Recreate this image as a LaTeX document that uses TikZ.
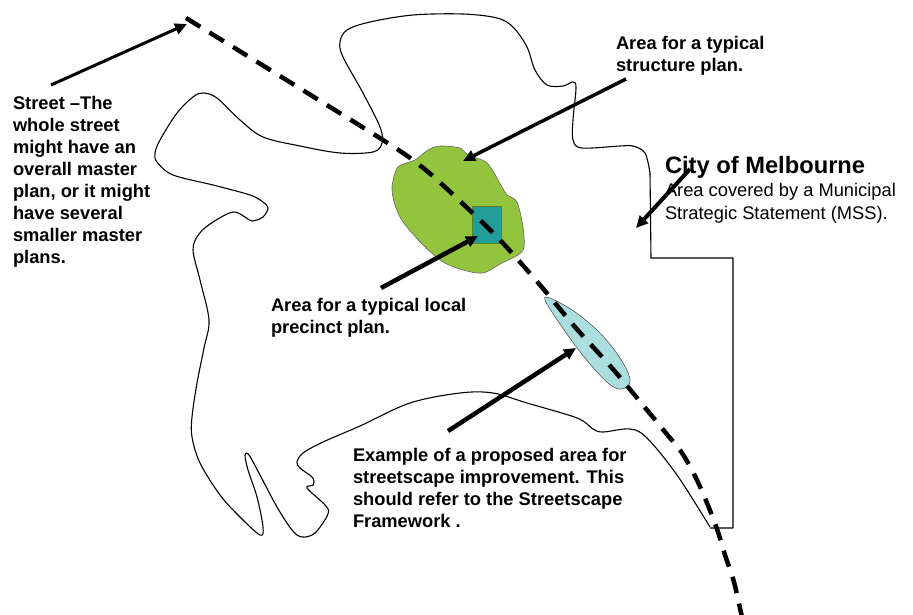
\documentclass[tikz,border=0pt]{standalone}
\usepackage{fontspec}
\setmainfont{Liberation Sans}
\usetikzlibrary{arrows.meta}
\tikzset{
  x=1pt,y=-1pt,
  outline/.style={draw=black,line width=1.1pt,line join=round},
  streetline/.style={draw=black,line width=4.5pt,dash pattern=on 16.8pt off 10.8pt},
  pointer/.style={draw=black,line width=#1,-{Triangle[length=12pt,width=11pt]}},
  pointer/.default=3.5pt,
  greenarea/.style={draw=black!60,fill=areagreen,line width=.6pt},
  tealarea/.style={draw=black!35!areagreen,fill=areateal,line width=.8pt},
  bluearea/.style={draw=black!65,fill=areablue,line width=.6pt},
  label/.style={anchor=north west,inner sep=0pt,outer sep=0pt,align=left,font=\fontsize{18.3}{22}\selectfont\bfseries},
  plainlabel/.style={anchor=north west,inner sep=0pt,outer sep=0pt,align=left,font=\fontsize{18.3}{23.5}\selectfont},
  titlelabel/.style={anchor=north west,inner sep=0pt,outer sep=0pt,font=\fontsize{23.7}{26}\selectfont\bfseries}
}
\definecolor{areagreen}{HTML}{92C43E}
\definecolor{areateal}{HTML}{219E9A}
\definecolor{areablue}{HTML}{AADEDF}
\begin{document}
\begin{tikzpicture}
\useasboundingbox (0,0) rectangle (913,615);
% municipal boundary
\draw[outline] plot[smooth,tension=0.55] coordinates {
 (710,527) (677,475) (647,438) (630,429) (603,432) (593,429) (577,418) (527,403) (493,393) (460,393)
 (410,403) (360,426) (323,442) (303,453) (297,462) (300,468) (313,478) (313,485) (307,488) (325,505) (328,514) (315,533) (302,537)
 (292,530) (277,507) (260,475) (249,455) (245,455) (248,470) (257,497) (263,527) (260,535) (240,517) (220,495) (200,463) (192,437) (192,417) (197,383) (204,348) (209,320) (200,280) (193,250)
 (199,234) (213,222) (233,212) (245,217) (252,221) (263,217) (268,208) (263,202) (250,195) (213,185) (173,175) (157,162) (155,153) (160,140) (177,113) (193,97) (203,93) (217,98) (240,120) (263,137) (300,146)
 (340,153) (373,152) (382,143) (380,127) (363,93) (343,57) (340,42) (347,30) (370,22) (413,15) (463,14) (497,18) (513,27) (527,47) (535,70) (547,85) (563,86) (573,82) (576,88) (573,120) (573,140) (582,148) (620,146) (633,146) (645,153) (650,173)
};
\draw[outline] (650,173) -- (651,258) -- (733,258) -- (733,528) -- (710,528);
% planning areas
\draw[greenarea] plot[smooth cycle,tension=0.5] coordinates {
 (392,187) (398,167) (415,160) (428,150) (440,146) (460,148) (468,155) (487,163) (502,187) (507,195) (517,202) (523,227) (524,247) (518,255) (502,263) (483,273) (463,270) (443,262) (423,245) (403,222) (395,205)
};
\draw[tealarea] (472,206) rectangle (501,243);
\draw[bluearea] plot[smooth cycle,tension=0.6] coordinates {
 (545,300) (552,299) (575,312) (600,333) (620,358) (630,380) (622,389) (608,383) (585,358) (562,327)
};
% street
\draw[streetline] plot[smooth,tension=0.5] coordinates {
 (186,18) (375,135) (422,167) (462,203) (500,240) (540,285) (575,327) (612,368) (647,410) (665,432) (682,453) (696,478) (707,503) (717,529) (725,555) (734,582) (743,622)
};
% labels
\node[label] (streetlab) at (13,96) {Street \textendash The\\whole street\\might have an\\overall master\\plan, or it might\\have several\\smaller master\\plans.};
\node[label] (structlab) at (616,36) {Area for a typical\\structure plan.};
\node[titlelabel] (citylab) at (665,156) {City of Melbourne};
\node[plainlabel] (msslab) at (665,183) {Area covered by a Municipal\\Strategic Statement (MSS).};
\node[label] (locallab) at (271,298) {Area for a typical local\\precinct plan.};
\node[label] (examplelab) at (353,448) {Example of a proposed area for\\streetscape improvement. This\\should refer to the Streetscape\\Framework .};
% pointers
\coordinate (a1s) at (51,85);   \coordinate (a1e) at (187,24);
\coordinate (a2s) at (626,79);  \coordinate (a2e) at (463,161);
\coordinate (a3s) at (690,169); \coordinate (a3e) at (636,228);
\coordinate (a4s) at (381,288); \coordinate (a4e) at (478,236);
\coordinate (a5s) at (448,431); \coordinate (a5e) at (576,348);
\draw[pointer=3pt] (a1s) -- (a1e);
\draw[pointer=3.5pt] (a2s) -- (a2e);
\draw[pointer=4pt] (a3s) -- (a3e);
\draw[pointer=4.5pt] (a4s) -- (a4e);
\draw[pointer=4.5pt] (a5s) -- (a5e);
\end{tikzpicture}
\end{document}
